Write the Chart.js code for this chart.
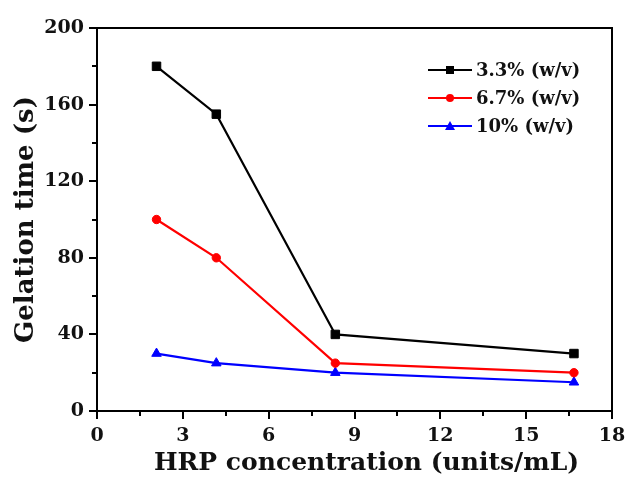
<!DOCTYPE html>
<html>
<head>
<meta charset="utf-8">
<script src="https://cdn.jsdelivr.net/npm/chart.js@4"></script>
<style>
  html, body { margin: 0; padding: 0; background: #fff; }
  #wrap { width: 629px; height: 479px; }
</style>
</head>
<body>
<div id="wrap"><canvas id="c" width="629" height="479"></canvas></div>
<script>
const hrpConcentration = [2.08, 4.17, 8.33, 16.67];
const gel33 = [180, 155, 40, 30];
const gel67 = [100, 80, 25, 20];
const gel10 = [30, 25, 20, 15];
const seriesLabels = ['3.3% (w/v)', '6.7% (w/v)', '10% (w/v)'];
const xTitle = 'HRP concentration (units/mL)';
const yTitle = 'Gelation time (s)';

const FONT = "'DejaVu Serif', 'Liberation Serif', serif";

function pts(ys) { return hrpConcentration.map((x, i) => ({x: x, y: ys[i]})); }

const frameAndExtras = {
  id: 'frameAndExtras',
  afterDraw(chart) {
    const ctx = chart.ctx;
    const a = chart.chartArea;
    const xs = chart.scales.x, ys = chart.scales.y;
    ctx.save();
    ctx.strokeStyle = '#000';
    ctx.lineWidth = 2;
    ctx.beginPath();
    ctx.moveTo(a.left, a.top); ctx.lineTo(a.right, a.top); ctx.lineTo(a.right, a.bottom);
    ctx.stroke();
    ctx.beginPath();
    for (let v = 1.5; v < 18; v += 3) {
      const px = Math.round(xs.getPixelForValue(v));
      ctx.moveTo(px, a.bottom); ctx.lineTo(px, a.bottom + 5);
    }
    for (let v = 20; v < 200; v += 40) {
      const py = Math.round(ys.getPixelForValue(v));
      ctx.moveTo(a.left, py); ctx.lineTo(a.left - 5, py);
    }
    ctx.stroke();
    // x axis title
    ctx.fillStyle = '#111';
    ctx.font = "bold 25px " + FONT;
    ctx.textAlign = 'center';
    ctx.textBaseline = 'middle';
    ctx.fillText(xTitle, (a.left + a.right) / 2 + 12, 463);
    // legend
    const lx0 = 428, lx1 = 472, tx = 476;
    const rowsY = [70, 98, 126];
    chart.data.datasets.forEach((ds, i) => {
      const y = rowsY[i];
      ctx.strokeStyle = ds.borderColor;
      ctx.lineWidth = 2;
      ctx.beginPath(); ctx.moveTo(lx0, y); ctx.lineTo(lx1, y); ctx.stroke();
      ctx.fillStyle = ds.borderColor;
      const cx = (lx0 + lx1) / 2;
      if (ds.pointStyle === 'rect') {
        ctx.fillRect(cx - 4, y - 4, 8, 8);
      } else if (ds.pointStyle === 'circle') {
        ctx.beginPath(); ctx.arc(cx, y, 4, 0, Math.PI * 2); ctx.fill();
      } else {
        ctx.beginPath(); ctx.moveTo(cx, y - 5); ctx.lineTo(cx + 5, y + 4); ctx.lineTo(cx - 5, y + 4); ctx.closePath(); ctx.fill();
      }
      ctx.fillStyle = '#111';
      ctx.font = "bold 18px " + FONT;
      ctx.textBaseline = 'middle';
      ctx.textAlign = 'left';
      ctx.fillText(ds.label, tx, y + 1);
    });
    ctx.restore();
  }
};

new Chart(document.getElementById('c'), {
  type: 'line',
  data: {
    datasets: [
      { label: seriesLabels[0], data: pts(gel33), borderColor: '#000000', backgroundColor: '#000000', pointStyle: 'rect', pointRadius: 6, pointBorderWidth: 1, borderWidth: 2.2 },
      { label: seriesLabels[1], data: pts(gel67), borderColor: '#ff0000', backgroundColor: '#ff0000', pointStyle: 'circle', pointRadius: 4.2, pointBorderWidth: 1, borderWidth: 2.2 },
      { label: seriesLabels[2], data: pts(gel10), borderColor: '#0000ff', backgroundColor: '#0000ff', pointStyle: 'triangle', pointRadius: 5.5, pointBorderWidth: 1, borderWidth: 2.2 }
    ]
  },
  options: {
    responsive: false,
    animation: false,
    devicePixelRatio: 1,
    layout: { padding: { top: 28, right: 17, left: 0, bottom: 0 } },
    plugins: { legend: { display: false }, tooltip: { enabled: false } },
    scales: {
      x: {
        type: 'linear', min: 0, max: 18,
        ticks: { stepSize: 3, color: '#111', padding: 6, font: { family: FONT, size: 19, weight: 'bold' } },
        grid: { display: true, drawOnChartArea: false, color: '#000', lineWidth: 2, tickLength: 8 },
        border: { display: true, color: '#000', width: 2 },
        title: { display: false },
        afterFit(s) { s.height = 68; s.paddingLeft = 0; s.paddingRight = 0; }
      },
      y: {
        min: 0, max: 200,
        ticks: { stepSize: 40, color: '#111', padding: 5, font: { family: FONT, size: 19, weight: 'bold' } },
        grid: { display: true, drawOnChartArea: false, color: '#000', lineWidth: 2, tickLength: 8 },
        border: { display: true, color: '#000', width: 2 },
        title: { display: true, text: yTitle, color: '#111', padding: { top: 11, bottom: 0 }, font: { family: FONT, size: 26, weight: 'bold' } },
        afterFit(s) { s.width = 97; s.paddingTop = 0; s.paddingBottom = 0; }
      }
    }
  },
  plugins: [frameAndExtras]
});
</script>
</body>
</html>
